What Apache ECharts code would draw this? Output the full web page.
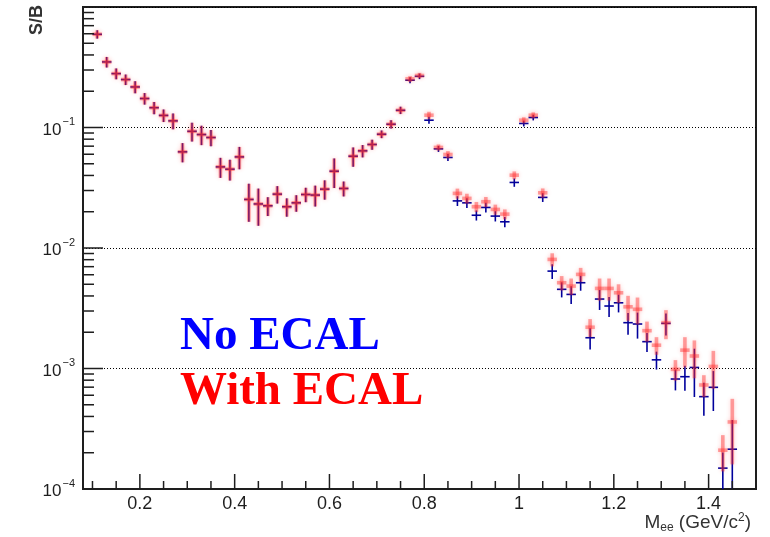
<!DOCTYPE html>
<html>
<head>
<meta charset="utf-8">
<script src="https://cdn.jsdelivr.net/npm/echarts@6/dist/echarts.min.js"></script>
<style>
  html, body { margin: 0; padding: 0; background: #fff; }
  #chart { width: 770px; height: 537px; }
</style>
</head>
<body>
<div id="chart"></div>
<script>
// Dielectron mass bins (GeV/c^2), bin width 0.02
const massBins = [
  0.11, 0.13, 0.15, 0.17, 0.19, 0.21, 0.23, 0.25, 0.27, 0.29,
  0.31, 0.33, 0.35, 0.37, 0.39, 0.41, 0.43, 0.45, 0.47, 0.49,
  0.51, 0.53, 0.55, 0.57, 0.59, 0.61, 0.63, 0.65, 0.67, 0.69,
  0.71, 0.73, 0.75, 0.77, 0.79, 0.81, 0.83, 0.85, 0.87, 0.89,
  0.91, 0.93, 0.95, 0.97, 0.99, 1.01, 1.03, 1.05, 1.07, 1.09,
  1.11, 1.13, 1.15, 1.17, 1.19, 1.21, 1.23, 1.25, 1.27, 1.29,
  1.31, 1.33, 1.35, 1.37, 1.39, 1.41, 1.43, 1.45
];

// S/B without the ECAL
const sbNoEcal = [
  0.594, 0.35, 0.28, 0.25, 0.217, 0.174, 0.146, 0.126, 0.1135, 0.0628,
  0.093, 0.0874, 0.0826, 0.0471, 0.0451, 0.057, 0.0253, 0.0232, 0.0224, 0.028,
  0.022, 0.0237, 0.0278, 0.0275, 0.0308, 0.0434, 0.0312, 0.0578, 0.064, 0.0723,
  0.088, 0.1065, 0.139, 0.247, 0.266, 0.115, 0.0665, 0.0564, 0.0246, 0.0237,
  0.0187, 0.0217, 0.0184, 0.0165, 0.035, 0.108, 0.121, 0.0263, 0.00643, 0.00454,
  0.00412, 0.00515, 0.0018, 0.00377, 0.0033, 0.00351, 0.0024, 0.00234, 0.00167, 0.00118,
  0.00237, 0.000818, 0.000855, 0.00102, 0.000584, 0.000698, 0.000149, 0.000214
];
const errNoEcal = [
  0.047, 0.035, 0.029, 0.025, 0.025, 0.019, 0.017, 0.015, 0.017, 0.0114,
  0.0165, 0.016, 0.0126, 0.0089, 0.0088, 0.012, 0.0088, 0.0079, 0.004, 0.0046,
  0.0038, 0.0037, 0.0038, 0.0054, 0.0056, 0.012, 0.0044, 0.0105, 0.0075, 0.0069,
  0.0064, 0.0084, 0.0097, 0.014, 0.014, 0.0077, 0.0038, 0.0038, 0.0023, 0.0022,
  0.0018, 0.002, 0.0018, 0.0016, 0.0028, 0.006, 0.0065, 0.0022, 0.0009, 0.00065,
  0.00069, 0.00073, 0.00036, 0.00071, 0.00062, 0.00059, 0.00049, 0.00057, 0.0003, 0.0002,
  0.00049, 0.00016, 0.0002, 0.00044, 0.000178, 0.000254, 0.000052, 0.00016
];

// S/B with the ECAL
const sbWithEcal = [
  0.594, 0.35, 0.28, 0.25, 0.217, 0.174, 0.146, 0.126, 0.1135, 0.0628,
  0.093, 0.0874, 0.0826, 0.0471, 0.0451, 0.057, 0.0253, 0.0232, 0.0224, 0.028,
  0.022, 0.0237, 0.0278, 0.0275, 0.0308, 0.0434, 0.0312, 0.0578, 0.064, 0.0723,
  0.088, 0.1065, 0.139, 0.253, 0.27, 0.1265, 0.0683, 0.0597, 0.0284, 0.0258,
  0.022, 0.0242, 0.0209, 0.0191, 0.0402, 0.115, 0.1265, 0.0287, 0.00804, 0.00515,
  0.00483, 0.00604, 0.0022, 0.00462, 0.00462, 0.00425, 0.00325, 0.0031, 0.00206, 0.00156,
  0.0024, 0.000984, 0.00142, 0.00127, 0.00073, 0.00104, 0.00021, 0.00036
];
const errWithEcal = [
  0.047, 0.035, 0.029, 0.025, 0.025, 0.019, 0.017, 0.015, 0.017, 0.0114,
  0.0165, 0.016, 0.0126, 0.0089, 0.0088, 0.012, 0.0088, 0.0079, 0.004, 0.0046,
  0.0038, 0.0037, 0.0038, 0.0054, 0.0056, 0.012, 0.0044, 0.0105, 0.0075, 0.0069,
  0.0064, 0.0084, 0.0097, 0.014, 0.014, 0.0085, 0.004, 0.004, 0.0027, 0.0024,
  0.0021, 0.0023, 0.002, 0.0018, 0.003, 0.0065, 0.007, 0.0025, 0.001, 0.0007,
  0.00075, 0.0008, 0.00037, 0.00096, 0.00096, 0.00075, 0.00076, 0.00078, 0.00039, 0.00026,
  0.00065, 0.00019, 0.0004, 0.00044, 0.00015, 0.00036, 0.00007, 0.0002
];

// Axis ticks and labels
const xMajorTicks = [0.2, 0.4, 0.6, 0.8, 1.0, 1.2, 1.4];
const xTickLabels = ['0.2', '0.4', '0.6', '0.8', '1', '1.2', '1.4'];
const xMinorTicks = [0.1, 0.15, 0.25, 0.3, 0.35, 0.45, 0.5, 0.55, 0.65, 0.7, 0.75,
                     0.85, 0.9, 0.95, 1.05, 1.1, 1.15, 1.25, 1.3, 1.35, 1.45];
const yDecades = [1e-4, 1e-3, 1e-2, 1e-1, 1];
const yMinorSteps = [2, 3, 4, 5, 6, 7, 8, 9];

const X_MIN = 0.08, X_MAX = 1.5;
const Y_MIN = 1e-4, Y_MAX = 1;
const HALF_BIN = 0.01;
const INK = '#1e1e1e';

function rows(xs, ys, es) {
  return xs.map((x, i) => [x, ys[i], es[i]]);
}

// Error-bar cross: vertical stat. error plus horizontal bin width
function errorCross(style) {
  return function (params, api) {
    const x = api.value(0), y = api.value(1), e = api.value(2);
    const lo = Math.max(y - e, Y_MIN * 0.999);
    const hi = Math.min(y + e, Y_MAX);
    const pLo = api.coord([x, lo]);
    const pHi = api.coord([x, hi]);
    const pL = api.coord([x - HALF_BIN, y]);
    const pR = api.coord([x + HALF_BIN, y]);
    return {
      type: 'group',
      children: [
        { type: 'line', shape: { x1: pLo[0], y1: pLo[1], x2: pHi[0], y2: pHi[1] }, style: style },
        { type: 'line', shape: { x1: pL[0], y1: pL[1], x2: pR[0], y2: pR[1] }, style: style }
      ]
    };
  };
}

// Minor y ticks at 2..9 within each decade
const yMinorTicks = [];
yDecades.slice(0, -1).forEach(d => yMinorSteps.forEach(k => yMinorTicks.push(d * k)));

const tickStyle = { stroke: INK, lineWidth: 1.5 };

const chart = echarts.init(document.getElementById('chart'), null, { renderer: 'canvas' });

chart.setOption({
  animation: false,
  backgroundColor: '#fff',
  grid: {
    left: 83, right: 14, top: 7, bottom: 48,
    show: true, borderColor: INK, borderWidth: 2
  },
  xAxis: {
    type: 'value', min: X_MIN, max: X_MAX,
    axisLine: { show: true, lineStyle: { color: INK, width: 2 } },
    axisTick: { show: false },
    axisLabel: { show: false },
    splitLine: { show: false }
  },
  yAxis: {
    type: 'log', logBase: 10, min: Y_MIN, max: Y_MAX,
    axisLine: { show: true, lineStyle: { color: INK, width: 2 } },
    axisTick: { show: false },
    splitLine: { show: true, lineStyle: { color: '#000', width: 1, type: [1, 2] } },
    axisLabel: {
      showMaxLabel: false,
      margin: 8,
      formatter: v => {
        const p = Math.round(Math.log10(v));
        return '{b|10}{s|' + (p < 0 ? '\u2212' + (-p) : p) + '}';
      },
      rich: {
        b: { fontFamily: 'Liberation Sans', fontSize: 17, color: INK, lineHeight: 22, verticalAlign: 'bottom' },
        s: { fontFamily: 'Liberation Sans', fontSize: 11, color: INK, lineHeight: 22, verticalAlign: 'top', padding: [0, 0, 0, 1] }
      }
    }
  },
  graphic: [
    {
      type: 'text', x: 28, y: 5, rotation: Math.PI / 2,
      style: { text: 'S/B', fontFamily: 'Liberation Sans', fontSize: 18, fontWeight: 'bold', fill: '#333', align: 'right', verticalAlign: 'top' }
    },
    {
      type: 'text', x: 751, y: 523,
      style: {
        text: 'M{sub|ee} (GeV/c{sup|2})',
        align: 'right', verticalAlign: 'middle',
        fontFamily: 'Liberation Sans', fontSize: 19, fill: '#333',
        rich: {
          sub: { fontFamily: 'Liberation Sans', fontSize: 12, fill: '#333', verticalAlign: 'bottom', lineHeight: 22 },
          sup: { fontFamily: 'Liberation Sans', fontSize: 12, fill: '#333', verticalAlign: 'top', lineHeight: 22 }
        }
      }
    },
    {
      type: 'text', x: 180, y: 337,
      style: { text: 'No ECAL', fontFamily: 'Liberation Serif', fontWeight: 'bold', fontSize: 47, fill: '#0000ff', align: 'left', verticalAlign: 'middle' }
    },
    {
      type: 'text', x: 180, y: 392,
      style: { text: 'With ECAL', fontFamily: 'Liberation Serif', fontWeight: 'bold', fontSize: 47, fill: '#ff0000', align: 'left', verticalAlign: 'middle' }
    }
  ],
  series: [
    {
      name: 'No ECAL', type: 'custom', clip: true, silent: true, z: 3,
      encode: { x: 0, y: 1 },
      data: rows(massBins, sbNoEcal, errNoEcal),
      renderItem: errorCross({ stroke: '#00009c', lineWidth: 1.6 })
    },
    {
      name: 'With ECAL', type: 'custom', clip: true, silent: true, z: 4,
      encode: { x: 0, y: 1 },
      data: rows(massBins, sbWithEcal, errWithEcal),
      renderItem: errorCross({
        stroke: 'rgba(255,40,40,0.42)', lineWidth: 3.6,
        shadowBlur: 4, shadowColor: 'rgba(255,60,60,0.55)'
      })
    },
    {
      // log-axis ticks, drawn inward from the left frame
      type: 'custom', clip: false, silent: true, z: 5,
      encode: { x: 0, y: 1 },
      data: yDecades.map(v => [X_MIN, v, 20]).concat(yMinorTicks.map(v => [X_MIN, v, 11])),
      renderItem: (params, api) => {
        const p = api.coord([api.value(0), api.value(1)]);
        const len = api.value(2);
        return { type: 'line', shape: { x1: p[0], y1: p[1], x2: p[0] + len, y2: p[1] }, style: tickStyle };
      }
    },
    {
      // x-axis ticks, drawn upward from the bottom frame
      type: 'custom', clip: false, silent: true, z: 5,
      encode: { x: 0, y: 1 },
      data: xMajorTicks.map(v => [v, Y_MIN, 15]).concat(xMinorTicks.map(v => [v, Y_MIN, 8])),
      renderItem: (params, api) => {
        const p = api.coord([api.value(0), api.value(1)]);
        const len = api.value(2);
        return { type: 'line', shape: { x1: p[0], y1: p[1], x2: p[0], y2: p[1] - len }, style: tickStyle };
      }
    },
    {
      // x-axis tick labels
      type: 'custom', clip: false, silent: true, z: 5,
      encode: { x: 0, y: 1 },
      data: xMajorTicks.map((v, i) => ({ value: [v, Y_MIN], label: xTickLabels[i] })),
      renderItem: (params, api) => {
        const p = api.coord([api.value(0), api.value(1)]);
        return {
          type: 'text', x: p[0], y: p[1] + 15,
          style: {
            text: xTickLabels[params.dataIndex],
            fontFamily: 'Liberation Sans', fontSize: 18, fill: INK,
            align: 'center', verticalAlign: 'middle'
          }
        };
      }
    }
  ]
});
</script>
</body>
</html>
